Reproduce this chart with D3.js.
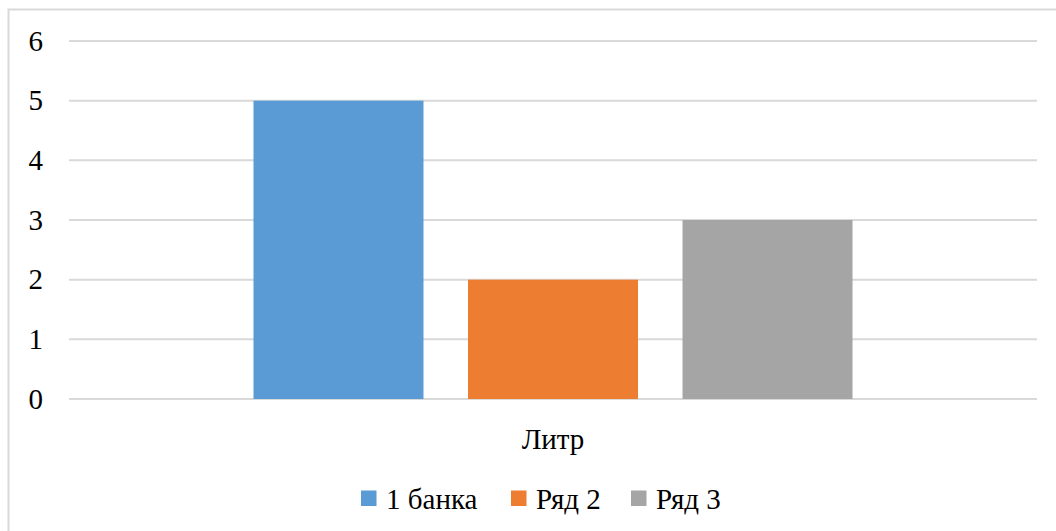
<!DOCTYPE html>
<html>
<head>
<meta charset="utf-8">
<script src="https://cdn.jsdelivr.net/npm/d3@7"></script>
</head>
<body style="margin:0;background:#fff">
<div id="wrap" style="position:relative;width:1056px;height:531px;overflow:hidden">
  <svg id="fig" width="1056" height="531" style="position:absolute;left:0;top:0;display:block"></svg>
</div>
<script>
// Data
const categories = ["Литр"];
const seriesNames = ["1 банка", "Ряд 2", "Ряд 3"];
const seriesValues = [5, 2, 3];
const seriesColors = ["#5b9bd5", "#ed7d31", "#a5a5a5"];
const yTicks = [0, 1, 2, 3, 4, 5, 6];

const FONT = '"Liberation Serif", "Times New Roman"';
const FONT_PX = 29;
const BASELINE_OFFSET = 24.3; // distance from line-box top to baseline at 29px, line-height 29px

const wrap = d3.select("#wrap");
const svg = d3.select("#fig");
const plot = { left: 69, right: 1037, top: 41, bottom: 399 };

// HTML text label helper, positioned absolutely over the SVG
function label(text, opts) {
  const el = wrap.append("div")
    .style("position", "absolute")
    .style("white-space", "nowrap")
    .style("font-family", FONT)
    .style("font-size", FONT_PX + "px")
    .style("line-height", FONT_PX + "px")
    .style("color", "#000")
    .style("top", (opts.baseline - BASELINE_OFFSET) + "px")
    .text(text);
  if (opts.align === "right") {
    el.style("left", "0px").style("width", opts.x + "px").style("text-align", "right");
  } else if (opts.align === "center") {
    el.style("left", (opts.x - 200) + "px").style("width", "400px").style("text-align", "center");
  } else {
    el.style("left", opts.x + "px");
  }
  return el;
}

// Outer chart frame
svg.append("rect")
  .attr("x", 8.5).attr("y", 9.5)
  .attr("width", 1100).attr("height", 600)
  .attr("fill", "#fff")
  .attr("stroke", "#d9d9d9").attr("stroke-width", 2);

const y = d3.scaleLinear().domain([0, 6]).range([plot.bottom, plot.top]);
const x0 = d3.scaleBand().domain(categories).range([plot.left, plot.right]);
const x1 = d3.scaleBand().domain(seriesNames).range([0, x0.bandwidth()])
  .paddingInner(0.2075).paddingOuter(0.86);

// Gridlines
svg.append("g")
  .selectAll("line")
  .data(yTicks)
  .join("line")
  .attr("x1", plot.left).attr("x2", plot.right)
  .attr("y1", d => y(d)).attr("y2", d => y(d))
  .attr("stroke", "#d9d9d9").attr("stroke-width", 2);

// Y axis labels
const fmt = d3.format("d");
yTicks.forEach(t => label(fmt(t), { x: 43, baseline: y(t) + 9.8, align: "right" }));

// Bars
const gBars = svg.append("g").attr("transform", `translate(${x0(categories[0])},0)`);
gBars.selectAll("rect")
  .data(seriesValues)
  .join("rect")
  .attr("x", (d, i) => x1(seriesNames[i]))
  .attr("width", x1.bandwidth())
  .attr("y", d => y(d))
  .attr("height", d => y(0) - y(d))
  .attr("fill", (d, i) => seriesColors[i]);

// Category label
categories.forEach(c => label(c, { x: x0(c) + x0.bandwidth() / 2, baseline: 449, align: "center" }));

// Legend
const legendItems = [
  { name: seriesNames[0], color: seriesColors[0], x: 361 },
  { name: seriesNames[1], color: seriesColors[1], x: 511 },
  { name: seriesNames[2], color: seriesColors[2], x: 631 }
];
svg.append("g").selectAll("rect").data(legendItems).join("rect")
  .attr("x", d => d.x).attr("y", 490.5)
  .attr("width", 15.5).attr("height", 15.5)
  .attr("fill", d => d.color);
legendItems.forEach(d => label(d.name, { x: d.x + 25, baseline: 509 }));
</script>
</body>
</html>
